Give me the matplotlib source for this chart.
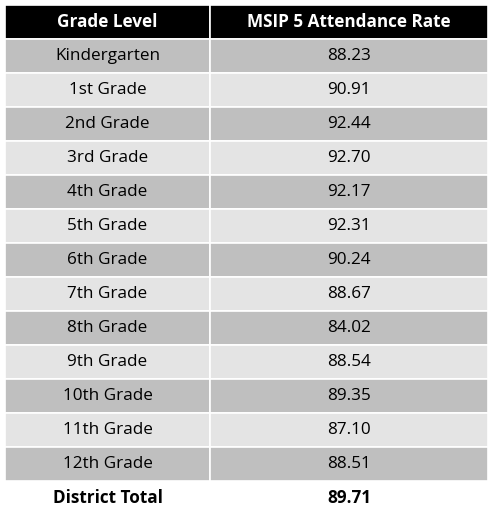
import matplotlib.pyplot as plt
from matplotlib.patches import Rectangle

header = ['Grade Level', 'MSIP 5 Attendance Rate']
grades = ['Kindergarten', '1st Grade', '2nd Grade', '3rd Grade', '4th Grade', '5th Grade',
          '6th Grade', '7th Grade', '8th Grade', '9th Grade', '10th Grade', '11th Grade',
          '12th Grade']
rates = [88.23, 90.91, 92.44, 92.70, 92.17, 92.31, 90.24, 88.67, 84.02, 88.54, 89.35,
         87.10, 88.51]
total_label = 'District Total'
total_rate = 89.71

fig = plt.figure(figsize=(4.9, 5.26), dpi=100)
ax = fig.add_axes([0, 0, 1, 1])
ax.set_xlim(0, 490)
ax.set_ylim(526, 0)
ax.axis('off')
plt.rcParams['font.family'] = ['Open Sans', 'DejaVu Sans']

x0, xm, x1 = 5, 210, 488
top, rh = 5, 34
fs = 12.3

def cell(x, y, w, h, color):
    ax.add_patch(Rectangle((x, y), w, h, facecolor=color, edgecolor='white', lw=1.2))

# header
cell(x0, top, xm - x0, rh, 'black')
cell(xm, top, x1 - xm, rh, 'black')
ax.text((x0 + xm) / 2, top + rh / 2, header[0], color='white', fontsize=fs,
        fontweight='bold', ha='center', va='center')
ax.text((xm + x1) / 2, top + rh / 2, header[1], color='white', fontsize=fs,
        fontweight='bold', ha='center', va='center')

for i, (g, r) in enumerate(zip(grades, rates)):
    y = top + rh * (i + 1)
    c = '#bfbfbf' if i % 2 == 0 else '#e4e4e4'
    cell(x0, y, xm - x0, rh, c)
    cell(xm, y, x1 - xm, rh, c)
    ax.text((x0 + xm) / 2, y + rh / 2, g, fontsize=fs, ha='center', va='center')
    ax.text((xm + x1) / 2, y + rh / 2, f'{r:.2f}', fontsize=fs, ha='center', va='center')

y = top + rh * (len(grades) + 1)
ax.text((x0 + xm) / 2, y + rh / 2, total_label, fontsize=fs, fontweight='bold',
        ha='center', va='center')
ax.text((xm + x1) / 2, y + rh / 2, f'{total_rate:.2f}', fontsize=fs, fontweight='bold',
        ha='center', va='center')

fig.savefig('out.png', dpi=100)
